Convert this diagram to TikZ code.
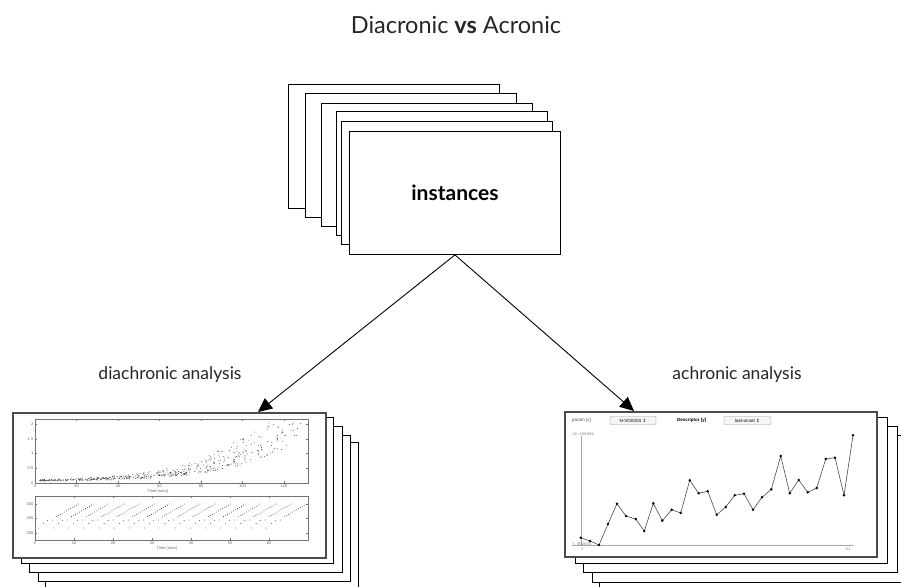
\documentclass[tikz,border=0pt]{standalone}
\usepackage{fontspec}
\setmainfont{Lato}
\newfontfamily\symfont{DejaVu Sans}
\newfontfamily\monofont{Liberation Mono}
\newfontfamily\smallsans{Liberation Sans}
\usetikzlibrary{arrows.meta}
\begin{document}
\begin{tikzpicture}[x=1pt,y=-1pt,
  sheet/.style={draw=black, fill=white, line width=0.9pt, inner sep=0pt, anchor=north west},
  plotsheet/.style={draw=black!70, fill=white, line width=1.5pt, inner sep=0pt, anchor=north west},
  arr/.style={-{Triangle[length=14pt,width=13pt]}, line width=0.9pt},
  axisbox/.style={draw=black!55, line width=0.4pt},
  ticklab/.style={text=black!60, font=\smallsans\fontsize{4}{4}\selectfont, inner sep=0.5pt},
  lbl/.style={font=\fontsize{17.5}{20}\selectfont, text=black!85},
  dot/.style={fill=black!80},
  uibtn/.style={draw=black!40, fill=black!4, rounded corners=1pt, line width=0.4pt, inner sep=0.8pt, minimum height=8pt, font=\smallsans\fontsize{4.5}{5}\selectfont},
]
\useasboundingbox (0,0) rectangle (901,586);
\fill[white] (0,0) rectangle (901,586);

% title
\node[font=\fontsize{23.5}{26}\selectfont, text=black!85] (title) at (456,25) {Diacronic \textbf{vs} Acronic};

% instance stack
\node[sheet, minimum width=211pt, minimum height=124pt] (i1) at (288,84) {};
\node[sheet, minimum width=211pt, minimum height=124pt] (i2) at (305,93) {};
\node[sheet, minimum width=211pt, minimum height=123pt] (i3) at (321,103) {};
\node[sheet, minimum width=211pt, minimum height=124pt] (i4) at (336,111) {};
\node[sheet, minimum width=211pt, minimum height=123pt] (i5) at (341,121) {};
\node[sheet, minimum width=211pt, minimum height=123pt, font=\bfseries\fontsize{21}{24}\selectfont] (inst) at (349,131) {instances};

% left stack
\node[sheet, minimum width=313pt, minimum height=146pt] (d5) at (45,442) {};
\node[sheet, minimum width=312pt, minimum height=146pt] (d4) at (38,435) {};
\node[sheet, minimum width=313pt, minimum height=146pt] (d3) at (29,426) {};
\node[sheet, minimum width=312pt, minimum height=146pt] (d2) at (21,417) {};
\node[plotsheet, minimum width=313pt, minimum height=145pt] (dfront) at (12,412) {};

% right stack
\node[sheet, minimum width=312pt, minimum height=146pt] (a5) at (599,442) {};
\node[sheet, minimum width=312pt, minimum height=147pt] (a4) at (592,435) {};
\node[sheet, minimum width=314pt, minimum height=146pt] (a3) at (583,426) {};
\node[sheet, minimum width=312pt, minimum height=146pt] (a2) at (575,417) {};
\node[plotsheet, minimum width=312pt, minimum height=145pt] (afront) at (564,411) {};

% labels
\node[lbl] (dlab) at (170,375) {diachronic analysis};
\node[lbl] (alab) at (737,375) {achronic analysis};

% arrows
\draw[arr] (inst.south) -- ([xshift=246pt]dfront.north west);
\draw[arr] (inst.south) -- ([xshift=70pt]afront.north west);

% ---------- left plot: top subplot ----------
\draw[axisbox] (35,419) rectangle (308,483);
\foreach \v/\l in {0/0,0.5/0.5,1/1,1.5/1.5,2/2} {
  \draw[black!55, line width=0.3pt] (35,{483-\v*29.5}) -- ++(2,0);
  \draw[black!55, line width=0.3pt] (308,{483-\v*29.5}) -- ++(-2,0);
  \node[ticklab, anchor=east] at (34,{483-\v*29.5}) {\l};
}
\foreach \t in {0,20,...,120} {
  \draw[black!55, line width=0.3pt] ({35+\t*2.075},483) -- ++(0,-2);
  \draw[black!55, line width=0.3pt] ({35+\t*2.075},419) -- ++(0,2);
  \node[ticklab, anchor=north] at ({35+\t*2.075},484) {\t};
}
\node[ticklab] at (158,491) {Time (secs)};
\pgfmathsetseed{11}
\foreach \i in {1,...,560} {
  \pgfmathsetmacro\tt{rnd*128+2}
  \pgfmathsetmacro\ss{rnd*29}
  \pgfmathsetmacro\vv{0.03+0.0197*exp(0.0338*(\tt+\ss))+0.04*rnd}
  \ifdim\vv pt>2.08pt\else
    \fill[dot] ({35+\tt*2.075},{483-\vv*29.5}) circle (0.45);
  \fi
}

% ---------- left plot: bottom subplot ----------
\draw[axisbox] (35,496) rectangle (308,540);
\foreach \v in {200,250,300} {
  \draw[black!55, line width=0.3pt] (35,{533-(\v-200)*0.29}) -- ++(2,0);
  \draw[black!55, line width=0.3pt] (308,{533-(\v-200)*0.29}) -- ++(-2,0);
  \node[ticklab, anchor=east] at (34,{533-(\v-200)*0.29}) {\v};
}
\foreach \t in {0,10,...,60} {
  \draw[black!55, line width=0.3pt] ({35+\t*3.9},540) -- ++(0,-2);
  \draw[black!55, line width=0.3pt] ({35+\t*3.9},496) -- ++(0,2);
  \node[ticklab, anchor=north] at ({35+\t*3.9},541) {\t};
}
\node[ticklab] at (167,548) {Time (secs)};
\foreach \k in {0,...,15} {
  \pgfmathsetmacro\xt{78.3+15.2*\k}
  \foreach \j in {0,...,11} {
    \fill[dot] ({\xt-\j*2.0},{504+\j*1.15}) circle (0.45);
  }
  \fill[dot] ({\xt-26},520) circle (0.45);
  \fill[dot] ({\xt-31},520.5) circle (0.45);
  \fill[dot] ({\xt-35},523.5) circle (0.45);
  \fill[dot] ({\xt-40},528) circle (0.45);
}

% ---------- right plot ----------
\node[font=\smallsans\fontsize{4.5}{5}\selectfont, text=black!70, anchor=west, inner sep=0pt] (px) at (572,420) {param [x]};
\node[uibtn, minimum width=46pt] (b1) at (633,420.5) {N-VOICES {\symfont ↕}};
\node[font=\smallsans\bfseries\fontsize{4.5}{5}\selectfont, anchor=west, inner sep=0pt] (dy) at (677,420) {Descriptor [y]};
\node[uibtn, minimum width=47pt] (b2) at (747.5,420.5) {last-onset {\symfont ↕}};
\node[font=\monofont\fontsize{4}{4}\selectfont, text=black!50, anchor=west, inner sep=0pt] (ymax) at (572,434) {18.269884};
\draw[black!35, line width=0.5pt] (581,436) -- (581,546);
\draw[black!35, line width=0.5pt] (572,545.5) -- (853,545.5);
\node[font=\monofont\fontsize{4}{4}\selectfont, text=black!50, anchor=west, inner sep=0pt] (ymin) at (572,544) {7.002835};
\node[font=\monofont\fontsize{4}{4}\selectfont, text=black!50, inner sep=0pt] (x1) at (582,549) {1};
\node[font=\monofont\fontsize{4}{4}\selectfont, text=black!50, inner sep=0pt] (x31) at (848,549) {31};
\draw[black!70, line width=0.6pt]
  (580.7,537.7) -- (590,541) -- (599,545) -- (608,524) -- (617,503.7) -- (626,516) -- (635.7,519) -- (644.3,531) -- (653.3,503.3) -- (662.3,520.7) -- (671.7,509.7) -- (680.7,513) -- (689.7,480.3) -- (698.7,493.3) -- (707.7,491.3) -- (716.7,514.7) -- (725.7,507) -- (734.7,495.3) -- (744,493.7) -- (753,509.7) -- (762,497.3) -- (771.3,489.3) -- (780.7,456) -- (789.7,493.3) -- (798.7,480) -- (807.7,492.3) -- (816.7,488) -- (825.7,459) -- (835,457.7) -- (844,495.3) -- (853,435.3);
\foreach \p in {(580.7,537.7),(590,541),(599,545),(608,524),(617,503.7),(626,516),(635.7,519),(644.3,531),(653.3,503.3),(662.3,520.7),(671.7,509.7),(680.7,513),(689.7,480.3),(698.7,493.3),(707.7,491.3),(716.7,514.7),(725.7,507),(734.7,495.3),(744,493.7),(753,509.7),(762,497.3),(771.3,489.3),(780.7,456),(789.7,493.3),(798.7,480),(807.7,492.3),(816.7,488),(825.7,459),(835,457.7),(844,495.3),(853,435.3)}
  \fill[black] \p circle (1.4);
\end{tikzpicture}
\end{document}
